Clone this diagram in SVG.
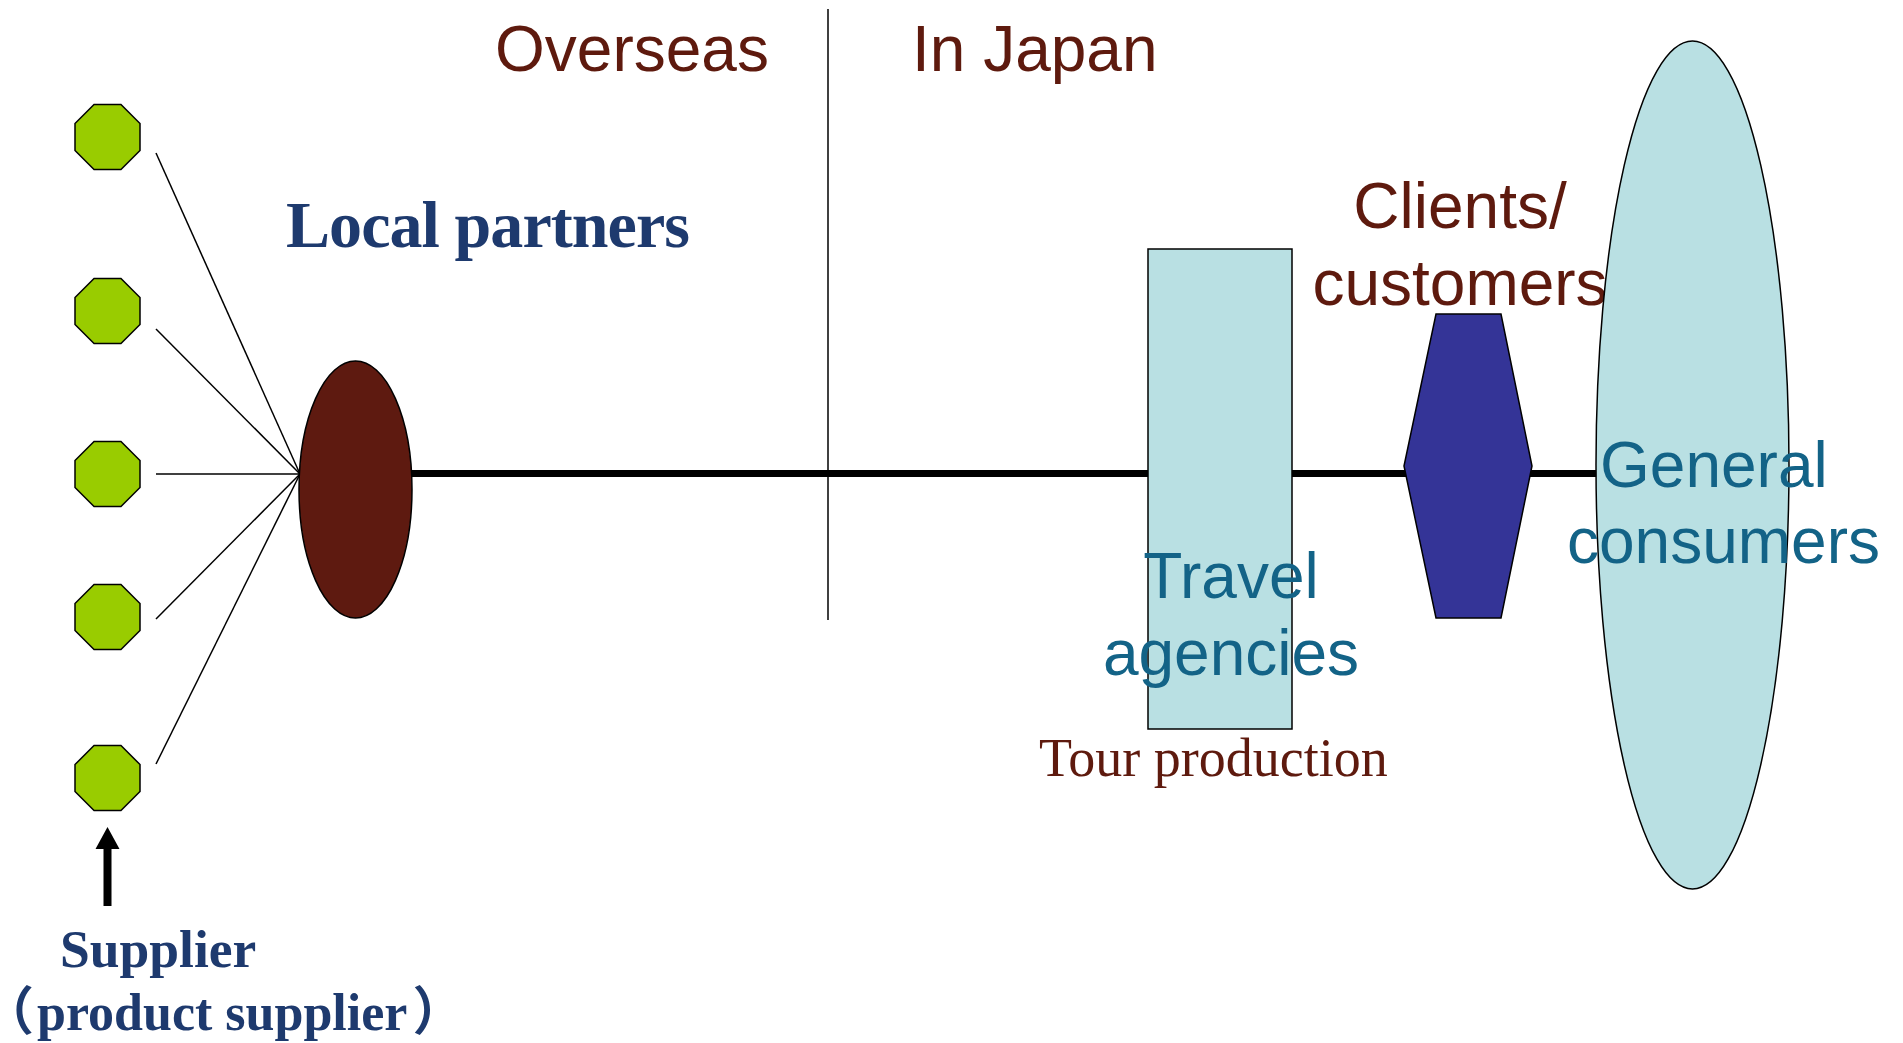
<svg xmlns="http://www.w3.org/2000/svg" xmlns:xlink="http://www.w3.org/1999/xlink" width="1903" height="1043" viewBox="0 0 1903 1043">
<style>
.sans{font-family:"Liberation Sans",Arial,sans-serif;font-size:64px}
.serif{font-family:"Liberation Serif","Times New Roman",serif}
.brown{fill:#5E1A0E}
.navy{fill:#1E3A6E;font-weight:bold}
.teal{fill:#136387}
.thin{stroke:#000;stroke-width:1.5;fill:none}
.shape{stroke:#000;stroke-width:1.5}
.cjk{font-family:"Liberation Serif","Noto Sans CJK JP",serif;font-feature-settings:"halt"}
</style>
<defs>
<polygon id="oct" points="-13.45,-32.5 13.45,-32.5 32.5,-13.45 32.5,13.45 13.45,32.5 -13.45,32.5 -32.5,13.45 -32.5,-13.45" fill="#99CC00" stroke="#000" stroke-width="1.5"/>
</defs>
<rect width="1903" height="1043" fill="#fff"/>

<g id="connectors">
<line class="thin" x1="828" y1="9" x2="828" y2="620"/>
<line x1="340" y1="473.5" x2="1600" y2="473.5" stroke="#000" stroke-width="7"/>
<line class="thin" x1="156" y1="153" x2="300" y2="474"/>
<line class="thin" x1="156" y1="329" x2="300" y2="474"/>
<line class="thin" x1="156" y1="474" x2="300" y2="474"/>
<line class="thin" x1="156" y1="619" x2="300" y2="474"/>
<line class="thin" x1="156" y1="764" x2="300" y2="474"/>
<path d="M103.5,906 V849 H95.5 L107.5,827 L119.5,849 H111.5 V906 Z" fill="#000"/>
</g>

<g id="labels">
<text class="sans brown" x="495" y="71">Overseas</text>
<text class="sans brown" x="912" y="71">In Japan</text>
</g>

<g id="supplier1"><use xlink:href="#oct" x="107.5" y="137"/></g>
<g id="supplier2"><use xlink:href="#oct" x="107.5" y="311"/></g>
<g id="supplier3"><use xlink:href="#oct" x="107.5" y="474"/></g>
<g id="supplier4"><use xlink:href="#oct" x="107.5" y="617"/></g>
<g id="supplier5"><use xlink:href="#oct" x="107.5" y="778"/></g>

<g id="supplier-label">
<text class="serif navy" x="60" y="967" font-size="53.5">Supplier</text>
<text class="cjk navy" x="8" y="1030" font-size="52">（<tspan dx="3">product supplier</tspan><tspan dx="5">）</tspan></text>
</g>

<g id="local-partners">
<ellipse class="shape" cx="355.5" cy="489.5" rx="56.5" ry="128.5" fill="#5E1A10"/>
<text class="serif navy" x="286" y="247" font-size="66" textLength="404">Local partners</text>
</g>

<g id="travel-agencies">
<rect class="shape" x="1148" y="249" width="144" height="480" fill="#B9E0E3"/>
<text class="sans teal" x="1231" y="598" text-anchor="middle">Travel</text>
<text class="sans teal" x="1231" y="675" text-anchor="middle">agencies</text>
<text class="serif brown" x="1039" y="776" font-size="54">Tour production</text>
</g>

<g id="clients">
<polygon class="shape" points="1436,314 1501,314 1532,466 1501,618 1436,618 1404,466" fill="#343497"/>
<text class="sans brown" x="1460" y="228" text-anchor="middle">Clients/</text>
<text class="sans brown" x="1460" y="305" text-anchor="middle">customers</text>
</g>

<g id="general-consumers">
<ellipse class="shape" cx="1692.5" cy="465" rx="96.5" ry="424" fill="#B9E0E3"/>
<text class="sans teal" x="1600" y="487">General</text>
<text class="sans teal" x="1567" y="563">consumers</text>
</g>
</svg>
